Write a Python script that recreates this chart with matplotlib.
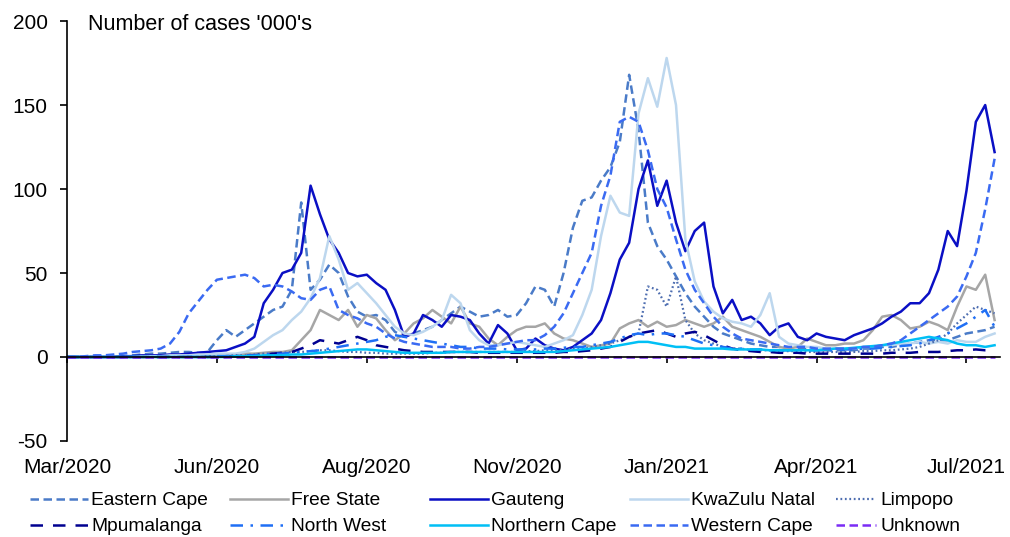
import matplotlib
matplotlib.use("Agg")
import matplotlib.pyplot as plt
import pandas as pd

plt.rcParams["font.family"] = ["Liberation Sans", "DejaVu Sans"]
plt.rcParams["axes.unicode_minus"] = False

# 5-day samples, starting mid March 2020
dates = pd.date_range("2020-03-14", periods=100, freq="5D")

eastern_cape = [0, 0, 0, 0, 0, 0, 0.5, 1, 1.5, 2,
                2, 2.5, 3, 3, 2.5, 3, 10, 16, 12, 16,
                20, 24, 28, 30, 40, 92, 40, 46, 55, 50,
                36, 27, 24, 25, 22, 15, 12, 14, 16, 18,
                22, 26, 30, 27, 24, 25, 28, 24, 25, 32,
                42, 40, 30, 50, 77, 93, 95, 105, 113, 128,
                168, 135, 80, 66, 58, 48, 38, 30, 24, 18,
                14, 12, 10, 8, 7, 6, 6, 5, 5, 5,
                4, 4, 4, 4, 4, 5, 5, 6, 6, 7,
                8, 9, 10, 10, 10, 12, 14, 15, 16, 18]
free_state = [0, 0, 0, 0, 0, 0, 0, 0, 0, 0,
              0, 0.5, 0.5, 0.5, 0.5, 1, 1, 1, 1.5, 2,
              2, 2.5, 3, 3, 4, 10, 16, 28, 25, 22,
              28, 18, 25, 23, 16, 10, 14, 20, 23, 28,
              24, 20, 30, 20, 18, 11, 7, 12, 16, 18,
              18, 20, 14, 11, 10, 8, 6, 7, 8, 17,
              20, 22, 18, 21, 18, 19, 22, 20, 18, 20,
              24, 18, 16, 14, 12, 9, 6, 5, 6, 11,
              9, 7, 7, 8, 8, 10, 16, 24, 25, 22,
              17, 18, 21, 19, 16, 30, 42, 40, 49, 22]
gauteng = [0, 0, 0, 0, 0, 0, 0.5, 0.5, 1, 1,
           1, 1.5, 1.5, 2, 2.5, 3, 3.5, 4, 6, 8,
           12, 32, 40, 50, 52, 62, 102, 85, 70, 62,
           50, 48, 49, 44, 40, 28, 12, 14, 25, 22,
           18, 25, 24, 22, 14, 8, 19, 14, 4, 5,
           11, 7, 5, 4, 6, 10, 14, 22, 38, 58,
           68, 100, 117, 90, 105, 80, 63, 75, 80, 42,
           26, 34, 22, 24, 20, 13, 18, 20, 12, 10,
           14, 12, 11, 10, 13, 15, 17, 20, 24, 27,
           32, 32, 38, 52, 75, 66, 99, 140, 150, 122]
kwazulu_natal = [0, 0, 0, 0, 0, 0, 0, 0, 0.5, 0.5,
                 0.5, 1, 1, 1, 1.5, 1.5, 2, 2, 2, 3,
                 5, 9, 13, 16, 22, 27, 35, 47, 72, 58,
                 40, 44, 38, 32, 25, 18, 14, 13, 15, 18,
                 22, 37, 32, 16, 10, 7, 7, 8, 9, 8,
                 7, 6, 8, 10, 13, 25, 40, 72, 96, 86,
                 84, 145, 166, 149, 178, 150, 70, 45, 33, 27,
                 23, 21, 20, 18, 25, 38, 12, 8, 7, 6,
                 6, 5, 5, 5, 5, 6, 6, 7, 7, 8,
                 8, 9, 8, 9, 8, 10, 9, 9, 12, 14]
limpopo = [0, 0, 0, 0, 0, 0, 0, 0, 0, 0,
           0, 0, 0, 0, 0, 0.5, 0.5, 0.5, 1, 1,
           1.5, 2, 2, 2.5, 3, 3, 3.5, 4, 4, 3.5,
           3, 3, 2.5, 2.5, 2, 2, 2, 2, 2, 2.5,
           2.5, 3, 3, 3, 3, 3, 3, 3, 3, 3.5,
           3.5, 4, 4, 4.5, 5, 5, 6, 7, 8, 10,
           12, 14, 42, 40, 30, 48, 22, 14, 10, 8,
           6, 5, 5, 4, 4, 4, 3.5, 3.5, 3.5, 3,
           3, 3, 3, 3, 3, 3.5, 3.5, 4, 4, 4.5,
           5, 6, 8, 10, 14, 20, 25, 30, 28, 26]
mpumalanga = [0, 0, 0, 0, 0, 0, 0, 0, 0, 0,
              0, 0, 0, 0, 0, 0, 0, 0.5, 0.5, 1,
              1, 1.5, 2, 2.5, 3, 5, 7, 10, 9, 8,
              10, 12, 10, 7, 6, 5, 4, 3.5, 3, 3,
              3, 3, 3, 3, 2.5, 2.5, 2.5, 2.5, 2.5, 2.5,
              2.5, 2.5, 2.5, 3, 3, 3.5, 4, 5, 6, 9,
              12, 14, 15, 16, 14, 12, 14, 15, 13, 10,
              7, 5, 4, 3.5, 3, 3, 2.5, 2.5, 2.5, 2,
              2, 2, 2, 2, 2, 2, 2, 2, 2.5, 2.5,
              2.5, 3, 3, 3, 3.5, 4, 4, 4.5, 4, 4]
north_west = [0, 0, 0, 0, 0, 0, 0, 0, 0, 0,
              0, 0, 0, 0, 0, 0, 0.5, 0.5, 0.5, 1,
              1, 1.5, 2, 2, 2.5, 3, 3.5, 4, 5, 6,
              7, 8, 9, 10, 12, 13, 12, 11, 10, 9,
              8, 7, 6, 6, 5, 5, 5, 4.5, 4.5, 4.5,
              4.5, 5, 5, 5.5, 6, 6, 7, 8, 9, 11,
              13, 14, 13, 14, 14, 13, 12, 10, 8, 7,
              6, 5, 5, 4.5, 4.5, 4, 4, 4, 4, 4,
              4, 4, 4, 4.5, 4.5, 5, 5, 5.5, 6, 6.5,
              7, 8, 10, 12, 14, 17, 20, 24, 28, 18]
northern_cape = [0, 0, 0, 0, 0, 0, 0, 0, 0, 0,
                 0, 0, 0, 0, 0, 0, 0, 0, 0.5, 0.5,
                 0.5, 1, 1, 1, 1.5, 1.5, 2, 2.5, 3, 3.5,
                 4, 4.5, 4.5, 4, 3.5, 3, 2.5, 2.5, 2.5, 2.5,
                 2.5, 3, 3, 3, 3, 3, 3, 3, 3, 3,
                 3, 3, 3, 3.5, 4, 4.5, 5, 5.5, 6, 7,
                 8, 9, 9, 8, 7, 6, 6, 5, 5, 5,
                 5, 4.5, 4.5, 4.5, 4.5, 4, 4, 4, 4, 4,
                 4, 4.5, 5, 5, 5.5, 6, 6.5, 7, 8, 9,
                 10, 11, 12, 11, 10, 8, 7, 7, 6, 7]
western_cape = [0, 0, 0.5, 1, 1, 1.5, 2, 3, 3.5, 4,
                5, 8, 15, 26, 33, 40, 46, 47, 48, 49,
                47, 42, 43, 42, 39, 35, 34, 40, 42, 28,
                25, 23, 20, 18, 14, 11, 9, 8, 7, 6,
                6, 6, 5, 5, 6, 6, 7, 8, 9, 10,
                10, 13, 18, 26, 38, 50, 62, 90, 108, 140,
                143, 140, 123, 100, 89, 70, 52, 40, 32, 24,
                18, 14, 11, 10, 9, 8, 7, 6, 6, 6,
                5, 5, 5, 5, 5, 6, 6, 7, 8, 10,
                14, 18, 22, 26, 30, 36, 48, 62, 88, 118]
unknown = [0, 0, 0, 0, 0, 0, 0, 0, 0, 0,
           0, 0, 0, 0, 0, 0, 0, 0, 0, 0,
           0, 0, 0, 0, 0, 0, 0, 0, 0, 0,
           0, 0, 0, 0, 0, 0, 0, 0, 0, 0,
           0, 0, 0, 0, 0, 0, 0, 0, 0, 0,
           0, 0, 0, 0, 0, 0, 0, 0, 0, 0,
           0, 0, 0, 0, 0, 0, 0, 0, 0, 0,
           0, 0, 0, 0, 0, 0, 0, 0, 0, 0,
           0, 0, 0, 0, 0, 0, 0, 0, 0, 0,
           0, 0, 0, 0, 0, 0, 0, 0, 0, 0]

tick_labels = ["Mar/2020", "Jun/2020", "Aug/2020", "Nov/2020",
               "Jan/2021", "Apr/2021", "Jul/2021"]
tick_dates = pd.date_range("2020-03-14", periods=7, freq="80D")

series = [
    ("Eastern Cape", eastern_cape, "#4A7BC8", (0, (3.4, 1.8)), 1.8),
    ("Free State", free_state, "#A6A6A6", "-", 1.8),
    ("Gauteng", gauteng, "#0A0FC4", "-", 1.8),
    ("KwaZulu Natal", kwazulu_natal, "#BDD7EE", "-", 1.8),
    ("Limpopo", limpopo, "#4D6DB0", (0, (0.8, 1.2)), 1.6),
    ("Mpumalanga", mpumalanga, "#000090", (0, (5, 4)), 1.8),
    ("North West", north_west, "#1F6FF5", (0, (5, 3, 1, 3)), 1.8),
    ("Northern Cape", northern_cape, "#00BFF5", "-", 1.8),
    ("Western Cape", western_cape, "#3A6AF2", (0, (3.4, 1.8)), 1.8),
    ("Unknown", unknown, "#7B2CF5", (0, (3.4, 1.8)), 1.8),
]

fig = plt.figure(figsize=(10.10, 5.37), dpi=100)
ax = fig.add_axes([0.0663, 0.1788, 0.924, 0.782])

handles = {}
for name, vals, col, ls, lw in series:
    ln, = ax.plot(dates, vals, color=col, linestyle=ls, linewidth=lw, label=name)
    handles[name] = ln

ax.set_ylim(-50, 200)
ax.set_yticks([-50, 0, 50, 100, 150, 200])
ax.set_xlim(dates[0], dates[0] + pd.Timedelta(days=498))
ax.set_xticks(tick_dates)
ax.set_xticklabels(tick_labels)

ax.spines["top"].set_visible(False)
ax.spines["right"].set_visible(False)
ax.spines["bottom"].set_position(("data", 0))
ax.spines["left"].set_linewidth(1.2)
ax.spines["bottom"].set_linewidth(1.2)
ax.tick_params(axis="y", direction="out", length=5, width=1.2, pad=9, labelsize=15)
ax.tick_params(axis="x", direction="out", length=4, width=1.2, pad=69, labelsize=15)

fig.text(88 / 1010, 1 - 24 / 537, "Number of cases '000's", fontsize=15.5,
         va="center", ha="left")

# legend: 5 columns, 2 rows, placed like the source
cols = [("Eastern Cape", "Mpumalanga"), ("Free State", "North West"),
        ("Gauteng", "Northern Cape"), ("KwaZulu Natal", "Western Cape"),
        ("Limpopo", "Unknown")]
col_x = [30, 230, 430, 630, 836]
for i, (pair, x0) in enumerate(zip(cols, col_x)):
    hl = 2.1 if i == 4 else 3.0
    fig.legend([handles[p] for p in pair], list(pair),
               loc="upper left", bbox_to_anchor=(x0 / 1010, 1 - 492 / 537),
               frameon=False, fontsize=13.8, handlelength=hl,
               handletextpad=0.2, borderpad=0, borderaxespad=0,
               labelspacing=0.45)

fig.savefig("out.png", dpi=100)
